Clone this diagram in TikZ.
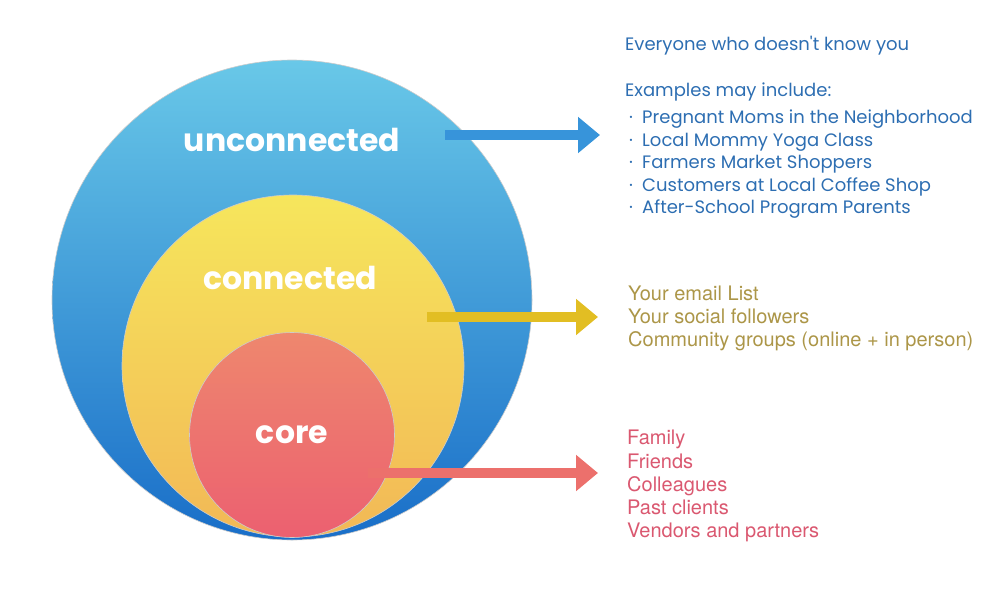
\documentclass[tikz,border=0pt]{standalone}
\usepackage{fontspec}
\usepackage{tikz}
\usetikzlibrary{arrows.meta, positioning}
\setmainfont{TeX Gyre Heros}
\newfontfamily\popfont{Poppins}
\definecolor{cBlueTop}{RGB}{105,200,232}
\definecolor{cBlueBot}{RGB}{25,110,200}
\definecolor{cYelTop}{RGB}{246,230,92}
\definecolor{cYelBot}{RGB}{242,184,86}
\definecolor{cRedTop}{RGB}{238,135,110}
\definecolor{cRedBot}{RGB}{236,96,112}
\definecolor{cArrBlue}{RGB}{55,148,218}
\definecolor{cArrYel}{RGB}{226,190,35}
\definecolor{cArrRed}{RGB}{236,112,108}
\definecolor{cTxtBlue}{RGB}{45,110,178}
\definecolor{cTxtYel}{RGB}{172,150,72}
\definecolor{cTxtRed}{RGB}{218,88,112}
\newcommand{\bul}{\makebox[13pt][l]{·}}
\tikzset{
	ring/.style     ={circle, inner sep=0pt, draw=black!20, line width=0.6pt},
	ringlabel/.style={text=white, font=\popfont\bfseries\fontsize{31.5}{32}\selectfont},
	pointer/.style  ={-{Triangle[length=22pt, width=35pt]}, line width=10pt},
	listtext/.style ={anchor=north west, align=left, inner sep=0pt},
}

\begin{document}
\begin{tikzpicture}[x=1pt, y=-1pt]
	\useasboundingbox (0,0) rectangle (1000,602);
	% nested circles
	\node[ring, minimum size=480pt, top color=cBlueTop, bottom color=cBlueBot] (uncRing) at (292,300) {};
	\node[ring, minimum size=342pt, top color=cYelTop, bottom color=cYelBot] (conRing) at (293,366) {};
	\node[ring, minimum size=205pt, top color=cRedTop, bottom color=cRedBot] (coreRing) at (292,435) {};
	% ring labels
	\node[ringlabel] (uncLabel) at (292,140) {unconnected};
	\node[ringlabel] (conLabel) at (290,278) {connected};
	\node[ringlabel] (coreLabel) at (292,435) {core};
	% descriptions
	\node[listtext, text=cTxtBlue, font=\popfont\fontsize{18}{22.5}\selectfont] (uncHead) at (625,36) {Everyone who doesn't know you\\[23pt]Examples may include:};
	\node[listtext, text=cTxtBlue, font=\popfont\fontsize{18}{22.5}\selectfont] (uncList) at (629,110) {%
		\bul Pregnant Moms in the Neighborhood\\
		\bul Local Mommy Yoga Class\\
		\bul Farmers Market Shoppers\\
		\bul Customers at Local Coffee Shop\\
		\bul After-School Program Parents};
	\node[listtext, text=cTxtYel, font=\fontsize{20}{23}\selectfont] (conList) at (628,286) {Your email List\\Your social followers\\Community groups (online + in person)};
	\node[listtext, text=cTxtRed, font=\fontsize{20}{23.3}\selectfont] (coreList) at (627,430) {Family\\Friends\\Colleagues\\Past clients\\Vendors and partners};
	% pointers
	\coordinate (uncTail) at (445,135);
	\coordinate (uncTip) at (600,135);
	\coordinate (conTail) at (427,317);
	\coordinate (conTip) at (598,317);
	\coordinate (coreTail) at (368,473);
	\coordinate (coreTip) at (598,473);
	\draw[pointer, cArrBlue] (uncTail) -- (uncTip);
	\draw[pointer, cArrYel] (conTail) -- (conTip);
	\draw[pointer, cArrRed] (coreTail) -- (coreTip);
\end{tikzpicture}
\end{document}
